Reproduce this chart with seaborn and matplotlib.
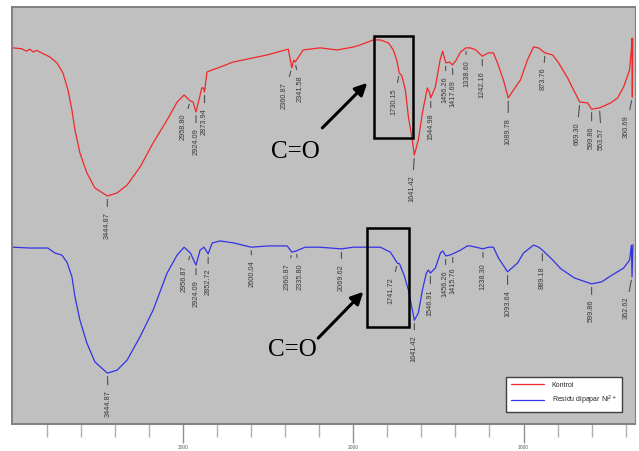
import numpy as np
import pandas as pd
import matplotlib
matplotlib.use("Agg")
import matplotlib.pyplot as plt
from matplotlib.lines import Line2D
from matplotlib.patches import Rectangle
import seaborn as sns

# ---------------- data ----------------
red_wn = [4000, 3950, 3920, 3900, 3880, 3860, 3841, 3782, 3741, 3706, 3676, 3653, 3635,
          3606, 3565, 3518, 3444.87, 3388, 3329, 3253, 3176, 3094, 3035, 2994, 2958.80,
          2941, 2924.09, 2900, 2890, 2880, 2873.94, 2860, 2829, 2782, 2706, 2506, 2382,
          2360.87, 2350, 2341.58, 2294, 2194, 2094, 2000, 1959, 1882, 1841, 1794, 1765,
          1745, 1730.15, 1715, 1694, 1676, 1653, 1641.42, 1618, 1594, 1565, 1553, 1544.98,
          1518, 1490, 1475, 1465, 1456.26, 1435, 1417.69, 1395, 1370, 1338.60, 1312, 1280,
          1242.16, 1206, 1177, 1153, 1118, 1089.78, 1047, 1018, 977, 941, 912, 873.76, 829,
          794, 741, 706, 669.30, 624, 599.86, 553.57, 488, 447, 412, 377, 366, 363, 360.69,
          358]
red_T = [90.2, 90.0, 89.4, 89.9, 89.2, 89.6, 89.2, 88.0, 86.6, 84.2, 80.1, 75.3, 70.5,
         65.0, 60.2, 56.6, 54.7, 55.4, 57.3, 61.6, 67.4, 72.9, 77.2, 78.9, 77.5,
         77.2, 74.8, 78.9, 80.6, 80.6, 79.6, 84.4, 84.9, 85.6, 86.8, 88.5, 89.9,
         85.4, 87.3, 86.8, 89.7, 90.2, 89.7, 90.4, 90.9, 92.1, 92.1, 91.4, 89.7,
         87.3, 84.2, 83.5, 80.1, 73.6, 68.1, 64.5, 68.1, 74.6, 80.6, 79.6, 78.2,
         80.8, 87.3, 89.4, 87.8, 86.6, 86.8, 86.1, 87.3, 89.2, 90.2, 90.2, 89.7,
         88.2, 89.0, 89.0, 86.6, 82.5, 78.2, 80.8, 82.5, 87.3, 90.4, 90.2, 89.0, 88.5,
         86.6, 83.0, 80.1, 77.2, 77.0, 75.5, 75.8, 77.0, 78.2, 80.8, 84.9, 90.0, 92.5, 78.4,
         92.5]

blue_wn = [4000, 3900, 3841, 3794, 3753, 3712, 3682, 3653, 3635, 3606, 3565, 3518, 3444.87,
           3388, 3329, 3253, 3176, 3094, 3035, 2994, 2956.87, 2924.09, 2900, 2877, 2852.72,
           2829, 2782, 2700, 2600.04, 2500, 2388, 2360.87, 2335.80, 2282, 2200, 2069.62,
           2000, 1959, 1841, 1782, 1760, 1741.72, 1728, 1700, 1676, 1653, 1641.42, 1618,
           1594, 1571, 1559, 1546.91, 1518, 1488, 1475, 1456.26, 1435, 1415.76, 1370, 1330,
           1312, 1280, 1238.30, 1206, 1177, 1147, 1093.64, 1035, 1000, 941, 910, 889.18, 835,
           780, 700, 599.86, 540, 488, 412, 377, 366, 362.62, 357]
blue_T = [42.4, 42.2, 42.2, 42.2, 41.0, 40.5, 38.8, 35.3, 30.5, 24.9, 19.4, 14.9, 12.2,
          12.9, 15.3, 20.9, 27.3, 36.2, 40.5, 42.4, 41.0, 38.1, 41.7, 42.4, 40.8,
          43.4, 43.9, 43.4, 42.4, 42.7, 42.7, 41.2, 41.5, 42.4, 42.4, 42.0,
          42.4, 42.4, 42.4, 41.2, 39.8, 38.6, 38.4, 35.5, 32.1, 27.3, 24.9, 26.6,
          32.1, 36.2, 36.9, 36.2, 37.4, 41.0, 41.5, 40.3, 40.5, 40.8, 41.7, 42.7,
          42.7, 42.4, 42.0, 42.4, 42.4, 39.8, 36.5, 38.6, 41.0, 42.9, 42.4, 41.7, 39.6,
          37.2, 35.0, 33.6, 34.1, 35.5, 37.4, 39.3, 42.9, 35.3, 43.0]

red_peaks = ["3444.87", "2958.80", "2924.09", "2873.94", "2360.87", "2341.58", "1730.15",
             "1641.42", "1544.98", "1456.26", "1417.69", "1338.60", "1242.16", "1089.78",
             "873.76", "669.30", "599.86", "553.57", "360.69"]
blue_peaks = ["3444.87", "2956.87", "2924.09", "2852.72", "2600.04", "2360.87", "2335.80",
              "2069.62", "1741.72", "1641.42", "1546.91", "1456.26", "1415.76", "1238.30",
              "1093.64", "889.18", "599.86", "362.62"]

series_names = ["Kontrol", "Residu dipapar Ni$^{2+}$"]
major_ticks = [3000, 2000, 1000]

# label placement (pixel offsets of label top from the peak)
red_offsets = [(0, -16), (-7, -13), (0, -16), (0, -16), (-8, -14), (5, -13), (-5, -15),
               (-2, -20), (0, -15), (-1, -13), (1, -15), (1, -12), (0, -15), (0, -20),
               (-2, -15), (-3, -20), (0, -17), (2, -20), (-6, -18)]
blue_offsets = [(1, -17), (-6, -12), (0, -15), (0, -15), (1, -13), (-5, -11), (4, -12),
                (0, -15), (-6, -14), (0, -15), (0, -16), (-1, -14), (0, -14), (0, -14),
                (0, -18), (0, -16), (0, -16), (-6, -20)]

# ---------------- plotting ----------------
sns.set_style("white", {"axes.facecolor": "#c0c0c0", "axes.edgecolor": "#707070"})
plt.rcParams["font.family"] = ["Liberation Sans", "DejaVu Sans"]

df = pd.concat([
    pd.DataFrame({"wn": red_wn, "T": red_T, "series": series_names[0]}),
    pd.DataFrame({"wn": blue_wn, "T": blue_T, "series": series_names[1]}),
])
colors = {series_names[0]: "#f02828", series_names[1]: "#3232e6"}

fig = plt.figure(figsize=(6.39, 4.51), dpi=100)
ax = fig.add_axes([12 / 639, 27 / 451, 623 / 639, 417 / 451])
sns.lineplot(data=df, x="wn", y="T", hue="series", palette=colors, sort=False,
             estimator=None, legend=False, lw=0.9, ax=ax)
ax.set_xlim(4005, 345)
ax.set_ylim(0, 100)
ax.set_xlabel("")
ax.set_ylabel("")
ax.set_yticks([])
ax.set_xticks(major_ticks)
ax.set_xticklabels([str(t) for t in major_ticks], fontsize=3.5, color="#606060")
ax.set_xticks(np.arange(3800, 300, -200), minor=True)
ax.tick_params(axis="x", which="major", direction="out", length=14, width=1,
               color="#909090", pad=1, bottom=True)
ax.tick_params(axis="x", which="minor", direction="out", length=9, width=1,
               color="#b0b0b0", bottom=True)
for s in ax.spines.values():
    s.set_linewidth(1.4)
    s.set_color("#808080")
ax.spines["right"].set_linewidth(0.8)


def label_peaks(wn, T, peaks, offsets):
    xs = np.asarray(wn)[::-1]
    ys = np.asarray(T)[::-1]
    for lab, (dx, dy) in zip(peaks, offsets):
        w = float(lab)
        yv = np.interp(w, xs, ys)
        ax.annotate(lab, xy=(w, yv), xytext=(dx, dy), textcoords="offset pixels",
                    rotation=90, ha="center", va="top", fontsize=5.3, color="#3a3a3a",
                    arrowprops=dict(arrowstyle="-", color="#505050", lw=0.8,
                                    shrinkA=1.5, shrinkB=2.5))


label_peaks(red_wn, red_T, red_peaks, red_offsets)
label_peaks(blue_wn, blue_T, blue_peaks, blue_offsets)

# C=O boxes, arrows and text
ax.add_patch(Rectangle((1876, 68.6), 1647 - 1876, 93.0 - 68.6, fill=False,
                       ec="black", lw=1.8, zorder=5))
ax.add_patch(Rectangle((1918, 23.3), 1671 - 1918, 47.0 - 23.3, fill=False,
                       ec="black", lw=1.8, zorder=5))
for (x0, y0, x1, y1) in [(2182, 71.0, 1918, 81.8), (2206, 20.6, 1941, 31.7)]:
    ax.annotate("", xy=(x1, y1), xytext=(x0, y0),
                arrowprops=dict(arrowstyle="-|>", color="black", lw=2.2,
                                mutation_scale=18, shrinkA=0, shrinkB=0))
ax.text(2341, 65.2, "C=O", fontsize=18, family="Liberation Serif", ha="center",
        va="center", color="black")
ax.text(2359, 17.7, "C=O", fontsize=18, family="Liberation Serif", ha="center",
        va="center", color="black")

handles = [Line2D([], [], color=colors[n], lw=0.9) for n in series_names]
leg = ax.legend(handles, series_names, loc="lower right",
                bbox_to_anchor=(0.979, 0.029), fontsize=5, frameon=True, fancybox=False,
                edgecolor="#404040", handlelength=4.8, handletextpad=1.1,
                labelspacing=0.75, borderpad=0.7, borderaxespad=0)
leg.get_frame().set_linewidth(1.0)
leg.get_frame().set_facecolor("white")
leg.get_frame().set_alpha(1)

fig.savefig("out.png", dpi=100, facecolor="white")
